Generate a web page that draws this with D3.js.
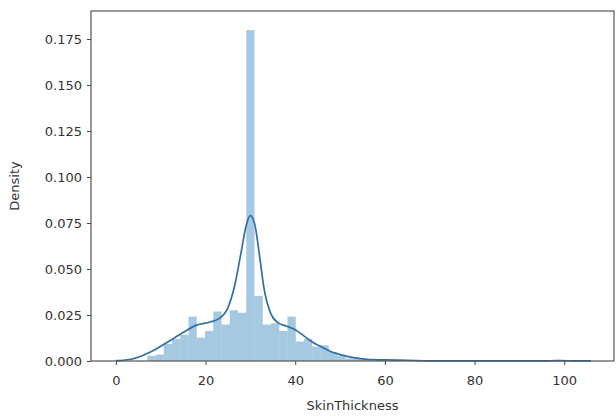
<!DOCTYPE html>
<html>
<head>
<meta charset="utf-8">
<script src="https://cdn.jsdelivr.net/npm/d3@7"></script>
<style>
  html, body { margin: 0; padding: 0; background: #ffffff; }
  svg { display: block; }
  text { font-family: "DejaVu Sans", sans-serif; }
</style>
</head>
<body>
<svg id="chart" width="616" height="416"></svg>
<script>
// ---- data ----
const binStarts = [7, 8.84, 10.68, 12.52, 14.36, 16.2, 18.04, 19.88, 21.72, 23.56,
  25.4, 27.24, 29.08, 30.92, 32.76, 34.6, 36.44, 38.28, 40.12, 41.96,
  43.8, 45.64, 47.48, 49.32, 51.16, 53, 54.84, 56.68, 58.52, 60.36,
  62.2, 64.04, 65.88, 67.72, 69.56, 71.4, 73.24, 75.08, 76.92, 78.76,
  80.6, 82.44, 84.28, 86.12, 87.96, 89.8, 91.64, 93.48, 95.32, 97.16];
const binEnds = [8.84, 10.68, 12.52, 14.36, 16.2, 18.04, 19.88, 21.72, 23.56, 25.4,
  27.24, 29.08, 30.92, 32.76, 34.6, 36.44, 38.28, 40.12, 41.96, 43.8,
  45.64, 47.48, 49.32, 51.16, 53, 54.84, 56.68, 58.52, 60.36, 62.2,
  64.04, 65.88, 67.72, 69.56, 71.4, 73.24, 75.08, 76.92, 78.76, 80.6,
  82.44, 84.28, 86.12, 87.96, 89.8, 91.64, 93.48, 95.32, 97.16, 99];
const binDensity = [0.0028, 0.0035, 0.0092, 0.0120, 0.0142, 0.0241, 0.0127, 0.0163, 0.0269, 0.0198,
  0.0276, 0.0262, 0.1798, 0.0354, 0.0198, 0.0205, 0.0163, 0.0241, 0.0106, 0.0120,
  0.0078, 0.0085, 0.0050, 0.0028, 0.0014, 0.0014, 0.0007, 0, 0.0007, 0,
  0.0007, 0, 0, 0, 0, 0, 0, 0, 0, 0,
  0, 0, 0, 0, 0, 0, 0, 0, 0, 0.0007];

const kdeX = [0, 3, 6, 9, 12, 15, 18, 21, 23, 25, 26.5, 28, 29, 30, 31, 32, 33, 34.5, 36, 38,
  40, 42, 44, 46, 48, 50, 53, 56, 60, 65, 70, 80, 90, 96, 99, 102, 106];
const kdeY = [0.0002, 0.0008, 0.003, 0.0065, 0.011, 0.0155, 0.0195, 0.0212, 0.023, 0.029,
  0.041, 0.060, 0.073, 0.079, 0.074, 0.058, 0.040, 0.026, 0.021, 0.019,
  0.017, 0.0135, 0.010, 0.0075, 0.005, 0.0035, 0.0018, 0.0009, 0.0006, 0.0004,
  0.0001, 0.00002, 0.00002, 0.0001, 0.00018, 0.0001, 0.00002];

const xTicks = [0, 20, 40, 60, 80, 100];
const yTicks = [0, 0.025, 0.05, 0.075, 0.1, 0.125, 0.15, 0.175];
const xLabel = "SkinThickness";
const yLabel = "Density";

// ---- layout ----
const plot = { left: 91, top: 11, right: 614, bottom: 361 };
const svg = d3.select("#chart");

const x = d3.scaleLinear().domain([-5.55, 111.1]).range([plot.left, plot.right]);
const y = d3.scaleLinear().domain([0, 0.1902]).range([plot.bottom, plot.top]);

const bars = binStarts.map((s, i) => ({ x0: s, x1: binEnds[i], d: binDensity[i] }));

svg.append("g")
  .selectAll("rect")
  .data(bars.filter(b => b.d > 0))
  .join("rect")
  .attr("x", b => x(b.x0))
  .attr("width", b => x(b.x1) - x(b.x0))
  .attr("y", b => y(b.d))
  .attr("height", b => y(0) - y(b.d))
  .attr("fill", "#1f77b4")
  .attr("fill-opacity", 0.4);

const kde = kdeX.map((v, i) => [v, kdeY[i]]);
svg.append("path")
  .datum(kde)
  .attr("fill", "none")
  .attr("stroke", "#2f6fa6")
  .attr("stroke-width", 1.7)
  .attr("d", d3.line().x(d => x(d[0])).y(d => y(d[1])).curve(d3.curveMonotoneX));

// axes
const xAxis = svg.append("g")
  .attr("transform", `translate(0,${plot.bottom})`)
  .call(d3.axisBottom(x).tickValues(xTicks).tickFormat(d3.format("d")).tickSizeInner(4).tickSizeOuter(0));
const yAxis = svg.append("g")
  .attr("transform", `translate(${plot.left},0)`)
  .call(d3.axisLeft(y).tickValues(yTicks).tickFormat(d3.format(".3f")).tickSizeInner(4).tickSizeOuter(0));

[xAxis, yAxis].forEach(g => {
  g.select(".domain").remove();
  g.selectAll(".tick line").attr("stroke", "#444").attr("stroke-width", 1);
  g.selectAll(".tick text").attr("fill", "#333").style("font-size", "13px").style("font-family", "DejaVu Sans, sans-serif");
});
xAxis.selectAll(".tick text").attr("y", 20).attr("dy", "0.32em");
yAxis.selectAll(".tick text").attr("x", -9);

// frame
svg.append("rect")
  .attr("x", plot.left).attr("y", plot.top)
  .attr("width", plot.right - plot.left).attr("height", plot.bottom - plot.top)
  .attr("fill", "none").attr("stroke", "#555").attr("stroke-width", 1.2);

// labels
svg.append("text")
  .attr("x", (plot.left + plot.right) / 2).attr("y", 410)
  .attr("text-anchor", "middle").attr("fill", "#333")
  .style("font-size", "13px").text(xLabel);
svg.append("text")
  .attr("transform", `translate(19,${(plot.top + plot.bottom) / 2}) rotate(-90)`)
  .attr("text-anchor", "middle").attr("fill", "#333")
  .style("font-size", "13px").text(yLabel);
</script>
</body>
</html>
